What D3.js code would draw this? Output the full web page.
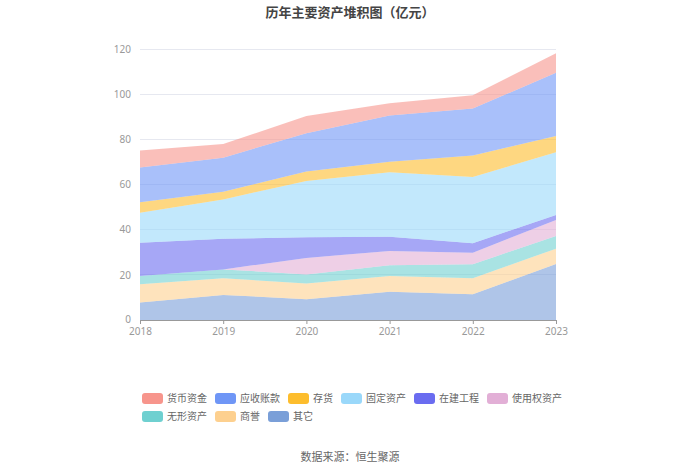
<!DOCTYPE html>
<html><head><meta charset="utf-8">
<script src="https://cdn.jsdelivr.net/npm/d3@7"></script>
<style>body{margin:0;background:#fff;font-family:"Noto Sans CJK SC","Noto Sans",sans-serif;}</style>
</head><body><svg id="c" width="700" height="474"></svg>
<script>
const years = ["2018","2019","2020","2021","2022","2023"];
const seriesNames = ["货币资金","应收账款","存货","固定资产","在建工程","使用权资产","无形资产","商誉","其它"];
const cash = [7.6, 6.0, 7.6, 5.4, 5.9, 8.6];
const receivables = [15.4, 15.1, 16.9, 20.5, 20.8, 28.0];
const inventory = [4.6, 3.4, 4.2, 4.7, 9.5, 7.2];
const fixedAssets = [13.3, 17.4, 25.0, 28.5, 29.3, 27.8];
const construction = [14.7, 13.6, 9.1, 6.3, 4.2, 2.2];
const rightOfUse = [0, 0, 7.3, 6.4, 5.1, 7.1];
const intangible = [3.7, 3.9, 4.0, 4.7, 6.2, 5.6];
const goodwill = [8.0, 7.4, 7.0, 7.0, 7.1, 6.8];
const other = [7.8, 11.1, 9.2, 12.5, 11.4, 24.8];
const yTicks = [0, 20, 40, 60, 80, 100, 120];
const colors = ["#f7958c","#6f96f6","#fdbd2d","#9ad8fa","#6a6cf0","#e2afd6","#6fd0d0","#fdd08f","#7a9fd8"];

const valuesBySeries = [cash, receivables, inventory, fixedAssets, construction, rightOfUse, intangible, goodwill, other];
const svg = d3.select("#c");
const x = d3.scalePoint().domain(years).range([140, 556]);
const y = d3.scaleLinear().domain([0, 120]).range([320, 49]);

// grid
svg.append("g").selectAll("line").data(yTicks.filter(d => d > 0)).join("line")
  .attr("x1", 140).attr("x2", 556).attr("y1", d => y(d)).attr("y2", d => y(d))
  .attr("stroke", "#e6e8f0").attr("stroke-width", 1).attr("shape-rendering","crispEdges");

// stack: bottom to top = other ... cash
const table = years.map((yr, i) => {
  const o = {year: yr};
  seriesNames.forEach((n, k) => o[n] = valuesBySeries[k][i]);
  return o;
});
const keys = seriesNames.slice().reverse();
const stacked = d3.stack().keys(keys)(table);
const area = d3.area().x(d => x(d.data.year)).y0(d => y(d[0])).y1(d => y(d[1]));
svg.append("g").selectAll("path").data(stacked).join("path")
  .attr("d", area)
  .attr("fill", d => colors[seriesNames.indexOf(d.key)])
  .attr("fill-opacity", 0.6);

// axes
const yAxis = svg.append("g").attr("transform", "translate(140,0)")
  .call(d3.axisLeft(y).tickValues(yTicks).tickSize(0).tickPadding(9));
yAxis.select(".domain").remove();
yAxis.selectAll("text").attr("fill", "#999").style("font-size", "10px").style("font-family","Noto Sans, sans-serif");
yAxis.selectAll(".tick").filter(d => d === 0).select("text").attr("dy", "0.2em");

const xAxis = svg.append("g").attr("transform", "translate(0,320)")
  .call(d3.axisBottom(x).tickSize(4).tickPadding(4));
xAxis.select(".domain").attr("stroke", "#999").attr("d", "M140,0.5H556");
xAxis.selectAll(".tick line").attr("stroke", "#999");
xAxis.selectAll("text").attr("fill", "#999").style("font-size", "10px").style("font-family","Noto Sans, sans-serif");

// title
svg.append("text").attr("x", 350).attr("y", 17).attr("text-anchor", "middle")
  .attr("fill", "#444").style("font-size", "13px").style("font-weight", "bold")
  .text("历年主要资产堆积图（亿元）");

// legend
const rows = [[0,1,2,3,4,5],[6,7,8]];
rows.forEach((row, ri) => {
  let cx = 142;
  const cy = 398.5 + ri * 18;
  row.forEach(k => {
    const g = svg.append("g");
    g.append("rect").attr("x", cx).attr("y", cy - 5.5).attr("width", 21).attr("height", 11)
      .attr("rx", 3).attr("fill", colors[k]);
    g.append("text").attr("x", cx + 25).attr("y", cy + 3.5).attr("fill", "#666")
      .style("font-size", "10px").text(seriesNames[k]);
    cx += 33 + seriesNames[k].length * 10;
  });
});

svg.append("text").attr("x", 350).attr("y", 461).attr("text-anchor", "middle")
  .attr("fill", "#666").style("font-size", "11px").text("数据来源：恒生聚源");
</script></body></html>
